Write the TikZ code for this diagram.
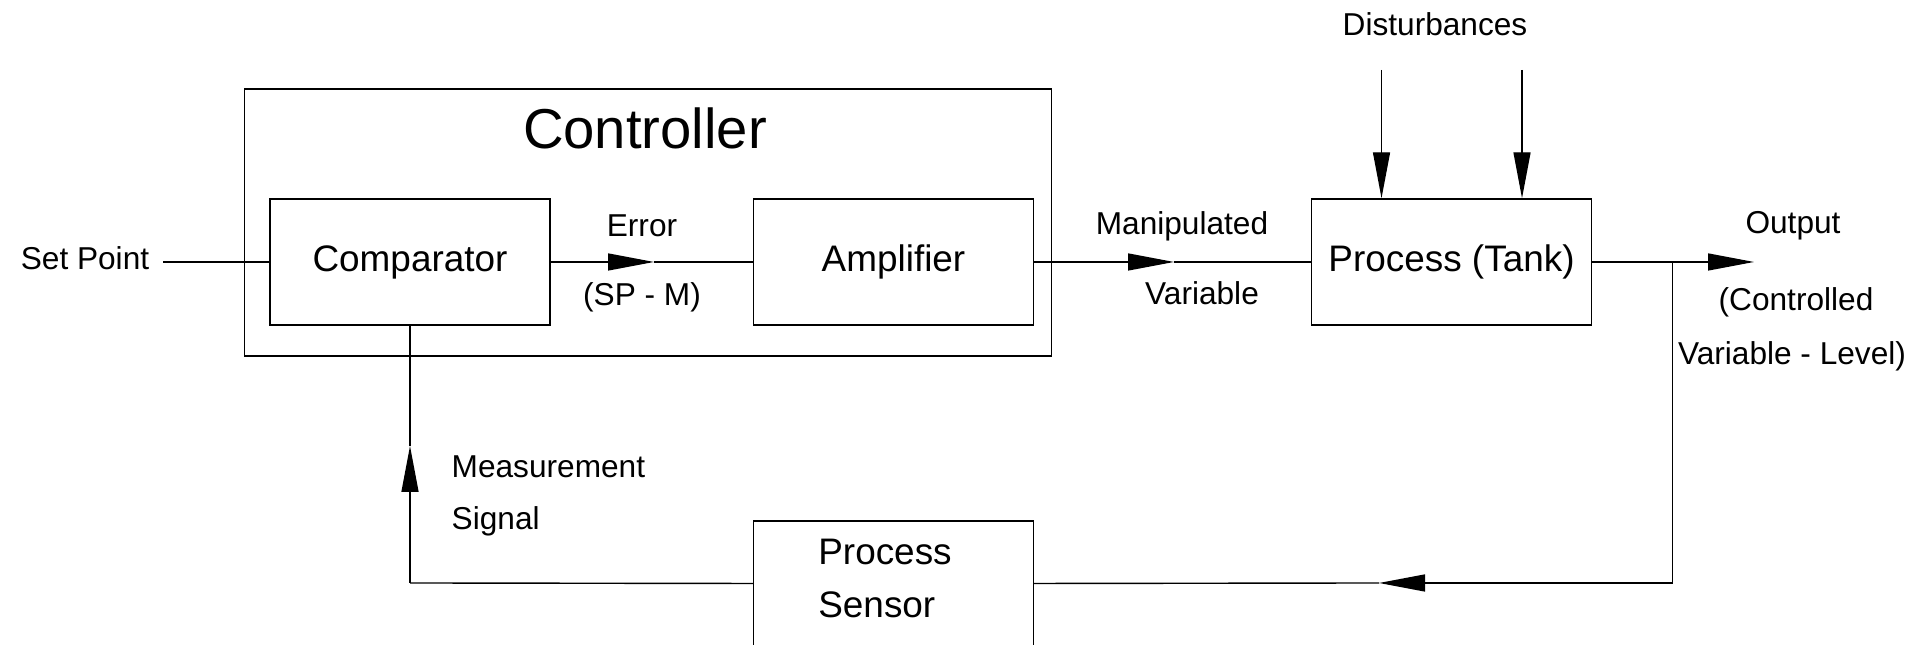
\documentclass[tikz,border=0pt]{standalone}
\usepackage{fontspec}
\setmainfont{Liberation Sans}
\usetikzlibrary{arrows.meta,positioning}
\tikzset{>={Triangle[length=4.6mm,width=1.7mm]}}
\tikzset{block/.style={draw,minimum width=2.8cm,minimum height=1.26cm,inner sep=0pt,font=\fontsize{10.5}{12}\selectfont},
  lbl/.style={inner sep=0pt,font=\fontsize{9}{11}\selectfont}}

\begin{document}
\begin{tikzpicture}[line width=0.4pt]
\useasboundingbox (0,0) rectangle (19.17,6.45);

% Controller frame
\draw (2.445,2.89) rectangle (10.514,5.56);
\node[inner sep=0pt,font=\fontsize{16}{18}\selectfont] (ctrl) at (6.45,5.17) {Controller};

% Blocks
\node[block] (comp) at (4.10,3.83) {Comparator};
\node[block] (amp) at (8.935,3.83) {Amplifier};
\node[block] (tank) at (14.515,3.83) {Process (Tank)};
\node[block,minimum height=1.25cm] (sensor) at (8.935,0.615) {};
\node[align=left,inner sep=0pt,font=\fontsize{10.5}{15}\selectfont] (sensortxt) at (8.85,0.665) {Process\\Sensor};

% Set point
\node[lbl] (sp) at (0.85,3.87) {Set Point};
\coordinate (spin) at (1.63,3.83);
\draw (spin) -- (comp.west);

% Error
\coordinate (errtip) at (6.54,3.83);
\draw[->] (comp.east) -- (errtip);
\draw (errtip) -- (amp.west);
\node[lbl] (err) at (6.42,4.19) {Error};
\node[lbl] (spm) at (6.42,3.48) {(SP - M)};

% Manipulated variable
\coordinate (mvtip) at (11.74,3.83);
\draw[->] (amp.east) -- (mvtip);
\draw (mvtip) -- (tank.west);
\node[lbl] (mv1) at (11.82,4.19) {Manipulated};
\node[lbl] (mv2) at (12.02,3.52) {Variable};

% Disturbances
\node[lbl] (dist) at (14.35,6.21) {Disturbances};
\coordinate (d1) at (13.815,5.75);
\coordinate (d2) at (15.22,5.75);
\draw[->] (d1) -- (d1 |- tank.north);
\draw[->] (d2) -- (d2 |- tank.north);

% Output
\coordinate (branch) at (16.725,3.83);
\coordinate (outtip) at (17.54,3.83);
\draw (tank.east) -- (branch);
\draw[->] (branch) -- (outtip);
\node[lbl] (out1) at (17.93,4.19) {Output};
\node[lbl] (out2) at (17.96,3.43) {(Controlled};
\node[lbl] (out3) at (17.92,2.89) {Variable - Level)};

% Feedback
\coordinate (corner) at (16.725,0.62);
\coordinate (fbtip) at (13.79,0.62);
\draw (branch) -- (corner);
\draw[->] (corner) -- (fbtip);
\draw (fbtip) -- (sensor.east);
\coordinate (left) at (4.10,0.62);
\coordinate (mtip) at (4.10,1.99);
\draw (sensor.west) -- (left);
\draw[->] (left) -- (mtip);
\draw (mtip) -- (comp.south);
\node[lbl,anchor=west] (ms1) at (4.51,1.78) {Measurement};
\node[lbl,anchor=west] (ms2) at (4.51,1.24) {Signal};

\end{tikzpicture}
\end{document}
